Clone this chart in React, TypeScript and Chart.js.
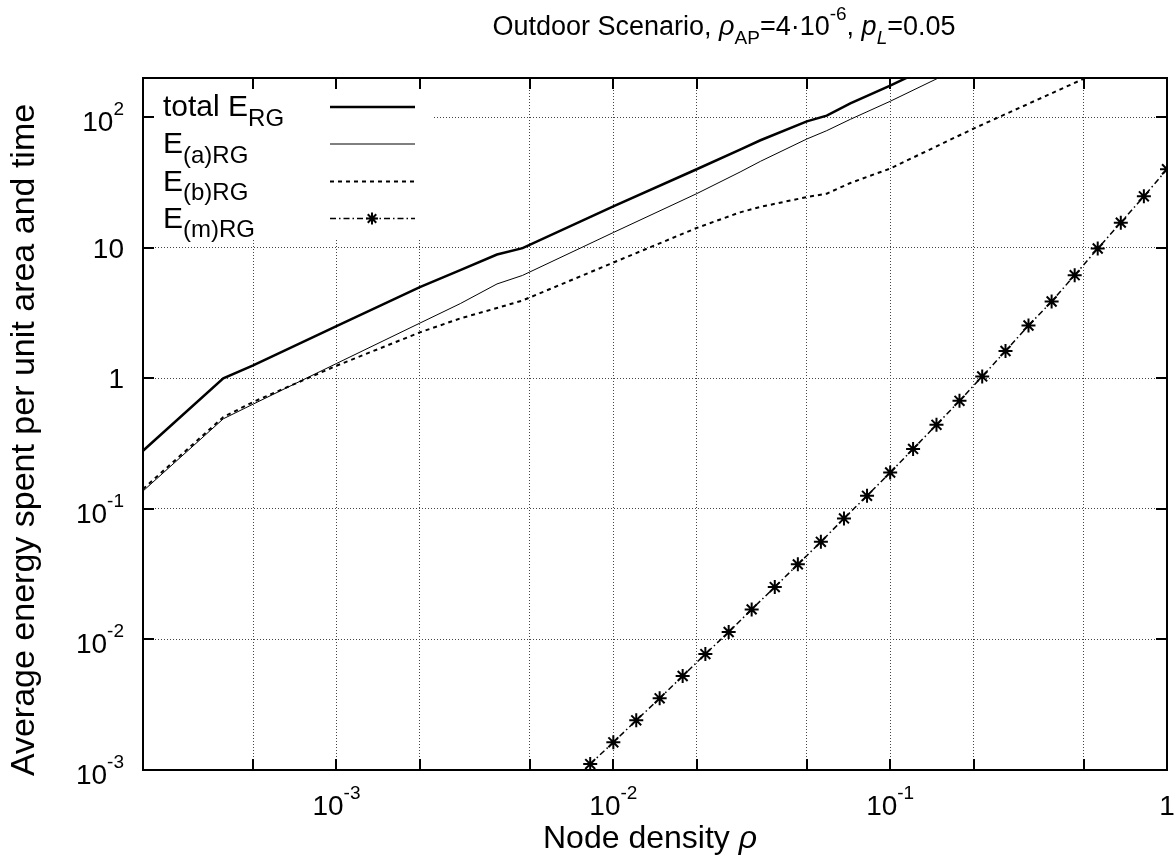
import React, { useEffect, useRef } from 'react';
import { Chart, registerables } from 'chart.js';

Chart.register(...registerables);

// ---------------- data ----------------
const RHO = [2e-4, 3.9e-4, 5e-4, 1e-3, 2e-3, 2.8e-3, 3.8e-3, 4.7e-3, 1e-2, 2e-2, 2.87e-2, 3.4e-2, 5e-2, 5.9e-2, 7.18e-2, 0.1, 0.2, 0.41, 0.6];
const E_TOTAL = [0.279, 1.0, 1.26, 2.51, 5.0, 6.74, 8.89, 9.95, 20.8, 40.0, 56.6, 66.7, 93.1, 103, 128, 175, 350, null, null];
const E_A = [0.137, 0.49, 0.635, 1.3, 2.65, 3.74, 5.29, 6.15, 13.1, 26.0, 38.1, 46.0, 68.2, 79, 96.5, 132.6, 270, null, null];
const E_B = [0.142, 0.505, 0.66, 1.25, 2.25, 2.88, 3.46, 3.95, 7.71, 14.2, 18.7, 20.6, 24.5, 26.0, 31.4, 40.5, 81.9, 163, 235];

const RHO_M = [0.00825, 0.01, 0.0121, 0.0147, 0.0178, 0.0215, 0.0261, 0.0316, 0.0383, 0.0464, 0.0562, 0.0681, 0.0825, 0.1, 0.121, 0.147, 0.178, 0.215, 0.261, 0.316, 0.383, 0.464, 0.562, 0.681, 0.825, 1];
const E_M = [1.11e-3, 1.63e-3, 2.4e-3, 3.54e-3, 5.25e-3, 7.73e-3, 1.14e-2, 1.7e-2, 2.52e-2, 3.76e-2, 5.6e-2, 8.45e-2, 0.126, 0.19, 0.288, 0.441, 0.673, 1.035, 1.62, 2.54, 3.88, 6.17, 9.88, 15.6, 24.8, 40.0];

const X_MIN = 2e-4;
const X_MAX = 1;
const Y_MIN = 1e-3;
const Y_MAX = 200;
const X_GRID = [5e-4, 1e-3, 2e-3, 5e-3, 1e-2, 2e-2, 5e-2, 0.1, 0.2, 0.5];
const Y_GRID = [1e-2, 0.1, 1, 10, 100];
const X_TICK_VALUES = [1e-3, 1e-2, 0.1, 1];
const X_TICK_BASE = ['10', '10', '10', '1'];
const X_TICK_EXP = ['-3', '-2', '-1', ''];
const Y_TICK_VALUES = [1e-3, 1e-2, 0.1, 1, 10, 100];
const Y_TICK_BASE = ['10', '10', '10', '1', '10', '10'];
const Y_TICK_EXP = ['-3', '-2', '-1', '', '', '2'];

const LEGEND_SUBS = ['RG', '(a)RG', '(b)RG', '(m)RG'];
const LEGEND_PREFIX = ['total E', 'E', 'E', 'E'];

// ---------------- text helpers ----------------
const FONT = '"Liberation Sans", Arial, Helvetica, sans-serif';
type Part = { t: string; s?: 'sub' | 'sup'; i?: boolean };

function drawRich(ctx: CanvasRenderingContext2D, parts: Part[], x: number, y: number, align: 'left' | 'center' | 'right', size: number, scriptScale = 0.72) {
  const fonts = parts.map(p => `${p.i ? 'italic ' : ''}${p.s ? Math.round(size * scriptScale) : size}px ${FONT}`);
  const widths = parts.map((p, k) => { ctx.font = fonts[k]; return ctx.measureText(p.t).width; });
  const total = widths.reduce((a, b) => a + b, 0);
  let cx = align === 'left' ? x : align === 'center' ? x - total / 2 : x - total;
  ctx.textAlign = 'left';
  ctx.textBaseline = 'alphabetic';
  ctx.fillStyle = '#000';
  parts.forEach((p, k) => {
    ctx.font = fonts[k];
    const dy = p.s === 'sub' ? size * 0.32 : p.s === 'sup' ? -size * 0.57 : 0;
    ctx.fillText(p.t, cx, y + dy);
    cx += widths[k];
  });
}

function drawStar(ctx: CanvasRenderingContext2D, x: number, y: number, r: number) {
  ctx.beginPath();
  ctx.moveTo(x - r, y); ctx.lineTo(x + r, y);
  ctx.moveTo(x, y - r); ctx.lineTo(x, y + r);
  const d = r * 0.7071;
  ctx.moveTo(x - d, y - d); ctx.lineTo(x + d, y + d);
  ctx.moveTo(x - d, y + d); ctx.lineTo(x + d, y - d);
  ctx.stroke();
}

const STYLES = [
  { width: 2.5, dash: [] as number[] },
  { width: 1, dash: [] as number[] },
  { width: 2, dash: [4, 4] },
  { width: 1.5, dash: [6, 3, 1.5, 3] },
];

const decor = {
  id: 'decor',
  beforeDatasetsDraw(chart: any) {
    const { ctx, chartArea } = chart;
    ctx.save();
    ctx.fillStyle = '#fff';
    ctx.fillRect(chartArea.left, chartArea.top, 434 - chartArea.left, 238 - chartArea.top);
    ctx.restore();
  },
  afterDraw(chart: any) {
    const { ctx, chartArea } = chart;
    const { left, right, top, bottom } = chartArea;
    const xs = chart.scales.x;
    const ys = chart.scales.y;
    ctx.save();
    ctx.strokeStyle = '#000';
    ctx.setLineDash([]);
    ctx.lineWidth = 2;
    ctx.strokeRect(left, top, right - left, bottom - top);
    // inward ticks
    const TL = 11;
    ctx.beginPath();
    X_GRID.forEach(v => {
      const px = Math.round(xs.getPixelForValue(v));
      ctx.moveTo(px, bottom); ctx.lineTo(px, bottom - TL);
      ctx.moveTo(px, top); ctx.lineTo(px, top + TL);
    });
    Y_GRID.forEach(v => {
      const py = Math.round(ys.getPixelForValue(v));
      ctx.moveTo(left, py); ctx.lineTo(left + TL, py);
      ctx.moveTo(right, py); ctx.lineTo(right - TL, py);
    });
    ctx.stroke();

    const FS = 28;
    // y tick labels
    Y_TICK_VALUES.forEach((v, k) => {
      const py = ys.getPixelForValue(v);
      const parts: Part[] = [{ t: Y_TICK_BASE[k] }];
      if (Y_TICK_EXP[k]) parts.push({ t: Y_TICK_EXP[k], s: 'sup' });
      drawRich(ctx, parts, left - 19, py + (Y_TICK_EXP[k] ? 14 : 10), 'right', FS, 0.68);
    });
    // x tick labels
    X_TICK_VALUES.forEach((v, k) => {
      const px = xs.getPixelForValue(v);
      const parts: Part[] = [{ t: X_TICK_BASE[k] }];
      if (X_TICK_EXP[k]) parts.push({ t: X_TICK_EXP[k], s: 'sup' });
      drawRich(ctx, parts, px, bottom + 45, 'center', FS, 0.68);
    });
    // axis titles
    drawRich(ctx, [{ t: 'Node density ' }, { t: 'ρ', i: true }], 650, 848, 'center', 32);
    ctx.save();
    ctx.translate(34, 440);
    ctx.rotate(-Math.PI / 2);
    drawRich(ctx, [{ t: 'Average energy spent per unit area and time' }], 0, 0, 'center', 34);
    ctx.restore();
    // title
    drawRich(ctx, [
      { t: 'Outdoor Scenario, ' }, { t: 'ρ', i: true }, { t: 'AP', s: 'sub' }, { t: '=4·10' }, { t: '-6', s: 'sup' },
      { t: ', ' }, { t: 'p', i: true }, { t: 'L', s: 'sub', i: true }, { t: '=0.05' },
    ], 724, 35, 'center', 27);
    // legend
    const rows = [107, 144, 181.5, 218.5];
    rows.forEach((ry, k) => {
      drawRich(ctx, [{ t: LEGEND_PREFIX[k] }, { t: LEGEND_SUBS[k], s: 'sub' }], 163, ry + 9, 'left', 30, 0.8);
      ctx.save();
      ctx.lineWidth = STYLES[k].width;
      ctx.setLineDash(STYLES[k].dash);
      ctx.beginPath();
      ctx.moveTo(330, ry); ctx.lineTo(415, ry);
      ctx.stroke();
      ctx.restore();
      if (k === 3) {
        ctx.save();
        ctx.lineWidth = 2;
        ctx.setLineDash([]);
        drawStar(ctx, 372, ry, 6);
        ctx.restore();
      }
    });
    ctx.restore();
  },
};

function pts(xsArr: number[], ysArr: (number | null)[]) {
  const out: { x: number; y: number }[] = [];
  xsArr.forEach((x, i) => { const y = ysArr[i]; if (y !== null && y !== undefined) out.push({ x, y }); });
  return out;
}

export default function App() {
  const ref = useRef<HTMLCanvasElement | null>(null);
  useEffect(() => {
    if (!ref.current) return;
    const gridCommon = { color: '#444', lineWidth: 1, drawTicks: false };
    const chart = new Chart(ref.current, {
      type: 'line',
      data: {
        datasets: [
          { label: 'total', data: pts(RHO, E_TOTAL), borderColor: '#000', borderWidth: STYLES[0].width, pointRadius: 0, tension: 0 },
          { label: 'a', data: pts(RHO, E_A), borderColor: '#000', borderWidth: STYLES[1].width, pointRadius: 0, tension: 0 },
          { label: 'b', data: pts(RHO, E_B), borderColor: '#000', borderWidth: STYLES[2].width, borderDash: STYLES[2].dash, pointRadius: 0, tension: 0 },
          {
            label: 'm', data: pts(RHO_M, E_M), borderColor: '#000', borderWidth: STYLES[3].width, borderDash: STYLES[3].dash,
            pointStyle: 'star', pointRadius: 7, pointBorderWidth: 2, pointBorderColor: '#000', pointBackgroundColor: '#000', tension: 0,
          },
        ],
      } as any,
      options: {
        responsive: false,
        animation: false,
        layout: { padding: { left: 143, top: 78, right: 9, bottom: 92 } },
        plugins: { legend: { display: false }, title: { display: false }, tooltip: { enabled: false } },
        scales: {
          x: {
            type: 'logarithmic', min: X_MIN, max: X_MAX,
            afterBuildTicks: (s: any) => { s.ticks = X_GRID.map(v => ({ value: v })); },
            ticks: { display: false },
            grid: gridCommon,
            border: { display: false, dash: [1, 2] },
          },
          y: {
            type: 'logarithmic', min: Y_MIN, max: Y_MAX,
            afterBuildTicks: (s: any) => { s.ticks = Y_GRID.map(v => ({ value: v })); },
            ticks: { display: false },
            grid: gridCommon,
            border: { display: false, dash: [1, 2] },
          },
        },
      } as any,
      plugins: [decor],
    });
    return () => chart.destroy();
  }, []);
  return (
    <div style={{ position: 'fixed', left: 0, top: 0, width: 1176, height: 862, background: '#fff' }}>
      <canvas ref={ref} width={1176} height={862} style={{ display: 'block' }} />
    </div>
  );
}
